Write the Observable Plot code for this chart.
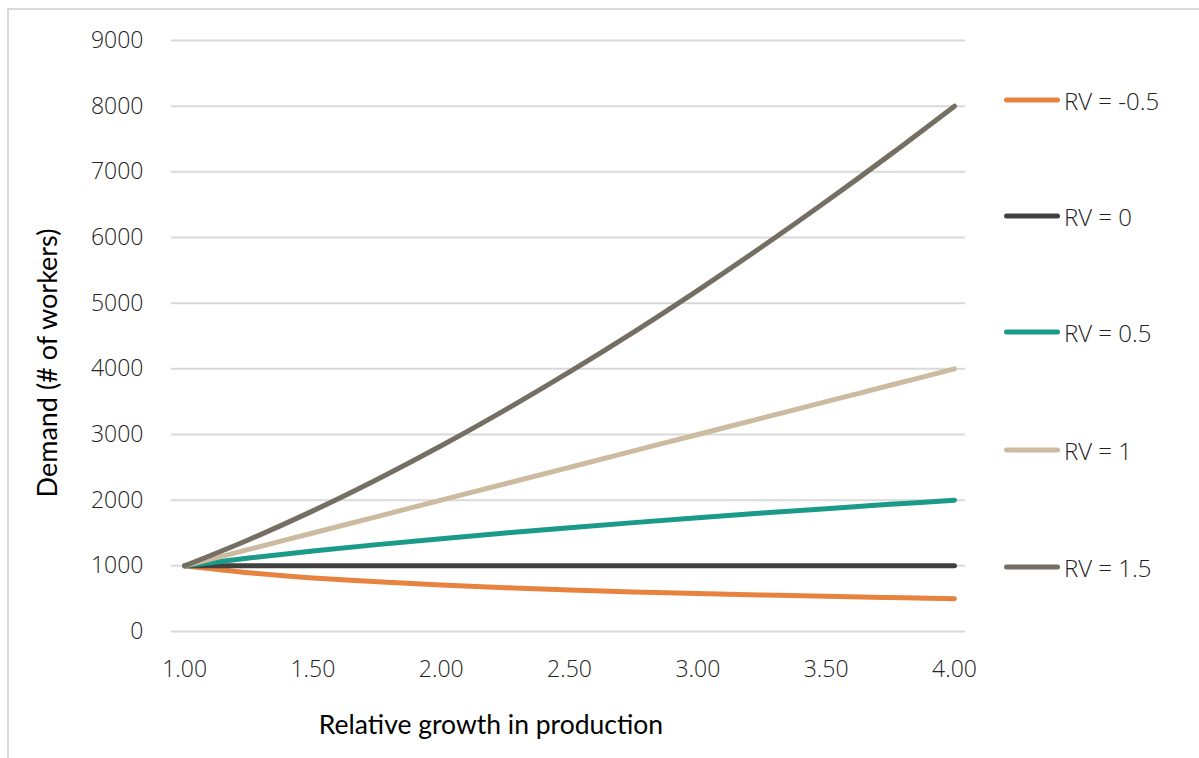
<!DOCTYPE html>
<html>
<head>
<meta charset="utf-8">
<script src="https://cdn.jsdelivr.net/npm/d3@7"></script>
<script src="https://cdn.jsdelivr.net/npm/@observablehq/plot@0.6"></script>
<style>
  html, body { margin: 0; padding: 0; background: #fff; }
  #wrap { position: relative; width: 1199px; height: 758px; overflow: hidden; font-family: "Open Sans", "Noto Sans", sans-serif; }
  #frame { position: absolute; left: 7px; top: 8px; width: 1400px; height: 900px; border-left: 2px solid #d9d9d9; border-top: 2px solid #d9d9d9; }
  #chart { position: absolute; left: 0; top: 0; }
  .title { position: absolute; font-family: "Liberation Sans Narrow", "Lato", sans-serif; font-size: 26.5px; color: #000; white-space: nowrap; }
  #xtitle { left: 491px; top: 724px; transform: translate(-50%, -50%); }
  #ytitle { left: 46px; top: 363px; transform: translate(-50%, -50%) rotate(-90deg); font-size: 27px; }
  #legend { position: absolute; left: 1004px; top: 0; }
  .item { position: absolute; left: 0; display: flex; align-items: center; white-space: nowrap; font-size: 24px; font-weight: 300; color: #222; transform: translateY(-50%); }
  .sw { width: 56px; height: 5px; border-radius: 3px; margin-right: 4px; }
</style>
</head>
<body>
<div id="wrap">
  <div id="frame"></div>
  <div id="chart"></div>
  <div class="title" id="xtitle">Relative growth in production</div>
  <div class="title" id="ytitle">Demand (# of workers)</div>
  <div id="legend"></div>
</div>
<script>
// Relative growth in production (x)
const growth = [1.00, 1.25, 1.50, 1.75, 2.00, 2.25, 2.50, 2.75, 3.00, 3.25, 3.50, 3.75, 4.00];
// Demand (# of workers) per series
const rvMinus05 = [1000, 894, 816, 756, 707, 667, 632, 603, 577, 555, 535, 516, 500];
const rv0       = [1000, 1000, 1000, 1000, 1000, 1000, 1000, 1000, 1000, 1000, 1000, 1000, 1000];
const rv05      = [1000, 1118, 1225, 1323, 1414, 1500, 1581, 1658, 1732, 1803, 1871, 1936, 2000];
const rv1       = [1000, 1250, 1500, 1750, 2000, 2250, 2500, 2750, 3000, 3250, 3500, 3750, 4000];
const rv15      = [1000, 1398, 1837, 2315, 2828, 3375, 3953, 4560, 5196, 5859, 6548, 7262, 8000];

const seriesNames = ["RV = -0.5", "RV = 0", "RV = 0.5", "RV = 1", "RV = 1.5"];
const seriesValues = [rvMinus05, rv0, rv05, rv1, rv15];
const seriesColors = ["#E8823F", "#404040", "#1A9A88", "#CDBBA1", "#756F63"];
const xTicks = [1.0, 1.5, 2.0, 2.5, 3.0, 3.5, 4.0];
const yTicks = [0, 1000, 2000, 3000, 4000, 5000, 6000, 7000, 8000, 9000];
const legendRows = [100, 216, 332, 450, 567];

const data = [];
seriesNames.forEach((name, i) => {
  growth.forEach((g, j) => data.push({series: name, x: g, y: seriesValues[i][j]}));
});

const chart = Plot.plot({
  width: 1199,
  height: 758,
  marginLeft: 171,
  marginRight: 234,
  marginTop: 40,
  marginBottom: 127,
  style: { fontFamily: "'Open Sans', 'Noto Sans', sans-serif", fontSize: "22px", fontWeight: 300, color: "#222", background: "transparent" },
  x: { domain: [0.949, 4.043], ticks: xTicks, tickFormat: d3.format(".2f"), tickSize: 0, tickPadding: 29, label: null },
  y: { domain: [0, 9000], ticks: yTicks, tickFormat: d => String(d), tickSize: 0, tickPadding: 28, label: null },
  color: { domain: seriesNames, range: seriesColors },
  marks: [
    Plot.gridY(yTicks, { stroke: "#d9d9d9", strokeOpacity: 1, strokeWidth: 2 }),
    Plot.axisY({ ticks: yTicks, tickSize: 0, tickPadding: 28, tickFormat: d => String(d), fontSize: 23, fill: "#222" }),
    Plot.axisX({ ticks: xTicks, tickSize: 0, tickPadding: 29, tickFormat: d3.format(".2f"), fontSize: 23, fill: "#222" }),
    Plot.line(data, { x: "x", y: "y", z: "series", stroke: "series", strokeWidth: 5, curve: "catmull-rom", strokeLinecap: "round", strokeLinejoin: "round" })
  ]
});
document.getElementById("chart").appendChild(chart);

const legend = document.getElementById("legend");
seriesNames.forEach((name, i) => {
  const item = document.createElement("div");
  item.className = "item";
  item.style.top = legendRows[i] + "px";
  const sw = document.createElement("div");
  sw.className = "sw";
  sw.style.background = seriesColors[i];
  const t = document.createElement("span");
  t.textContent = name;
  item.appendChild(sw);
  item.appendChild(t);
  legend.appendChild(item);
});
</script>
</body>
</html>
